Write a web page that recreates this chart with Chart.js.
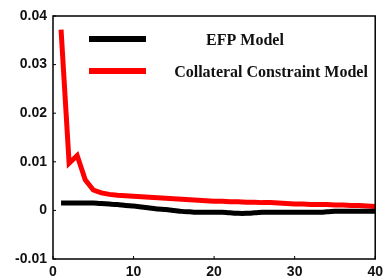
<!DOCTYPE html>
<html>
<head>
<meta charset="utf-8">
<script src="https://cdn.jsdelivr.net/npm/chart.js@4"></script>
<style>
  html, body { margin: 0; padding: 0; background: #fff; }
  #wrap { width: 388px; height: 280px; }
</style>
</head>
<body>
<div id="wrap"><canvas id="c" width="388" height="280"></canvas></div>
<script>
const periods = Array.from({ length: 40 }, (_, i) => i + 1);
const efp = [0.0015, 0.0015, 0.0015, 0.0015, 0.0015, 0.0014, 0.0013, 0.0012, 0.0010, 0.0009,
  0.0007, 0.0005, 0.0003, 0.0002, 0.0000, -0.0002, -0.0003, -0.0004, -0.0004, -0.0004,
  -0.0004, -0.0005, -0.0006, -0.0006, -0.0005, -0.0004, -0.0004, -0.0004, -0.0004, -0.0004,
  -0.0004, -0.0004, -0.0004, -0.0003, -0.0002, -0.0002, -0.0002, -0.0002, -0.0002, -0.0002];
const collateral = [0.0372, 0.0097, 0.0113, 0.0063, 0.0042, 0.0036, 0.0033, 0.0031, 0.0030, 0.0029,
  0.0028, 0.0027, 0.0026, 0.0025, 0.0024, 0.0023, 0.0022, 0.0021, 0.0020, 0.0019,
  0.0019, 0.0018, 0.0018, 0.0017, 0.0017, 0.0016, 0.0016, 0.0015, 0.0014, 0.0013,
  0.0013, 0.0012, 0.0012, 0.0012, 0.0011, 0.0011, 0.0010, 0.0010, 0.0009, 0.0008];
const seriesNames = ["EFP Model", "Collateral Constraint Model"];
const xTicks = [0, 10, 20, 30, 40];
const yTicks = [-0.01, 0, 0.01, 0.02, 0.03, 0.04];

const tickFont = { family: "Liberation Sans", size: 14, weight: "bold" };

// box around plot, inward ticks, legend
const frame = {
  id: "frame",
  afterDraw(chart) {
    const { ctx, chartArea: a, scales } = chart;
    ctx.save();
    ctx.strokeStyle = "#000";
    ctx.lineWidth = 1.5;
    ctx.strokeRect(a.left, a.top, a.right - a.left, a.bottom - a.top);
    ctx.lineWidth = 1;
    yTicks.forEach(v => {
      const y = scales.y.getPixelForValue(v);
      ctx.beginPath(); ctx.moveTo(a.left, y); ctx.lineTo(a.left + 3, y); ctx.stroke();
    });
    xTicks.forEach(v => {
      const x = scales.x.getPixelForValue(v);
      ctx.beginPath(); ctx.moveTo(x, a.bottom); ctx.lineTo(x, a.bottom - 3); ctx.stroke();
    });
    // legend
    const colors = ["#000", "#ff0000"];
    const rows = [39, 71];
    const textX = [245, 271];
    ctx.font = "bold 16px 'Liberation Serif'";
    ctx.textBaseline = "middle";
    ctx.textAlign = "center";
    seriesNames.forEach((n, i) => {
      ctx.fillStyle = colors[i];
      ctx.fillRect(89, rows[i] - 3, 57, 6);
      ctx.fillStyle = "#111";
      ctx.fillText(n, textX[i], rows[i] + 2);
    });
    ctx.restore();
  }
};

new Chart(document.getElementById("c"), {
  type: "line",
  data: {
    labels: periods,
    datasets: [
      { label: seriesNames[0], data: periods.map((p, i) => ({ x: p, y: efp[i] })),
        borderColor: "#000", borderWidth: 5, pointRadius: 0, tension: 0.2 },
      { label: seriesNames[1], data: periods.map((p, i) => ({ x: p, y: collateral[i] })),
        borderColor: "#ff0000", borderWidth: 5, pointRadius: 0, tension: 0 }
    ]
  },
  options: {
    responsive: false,
    animation: false,
    layout: { padding: { top: 16, right: 8, left: 0, bottom: 0 } },
    plugins: { legend: { display: false }, tooltip: { enabled: false } },
    scales: {
      x: {
        type: "linear", min: 0, max: 40,
        afterBuildTicks: s => { s.ticks = xTicks.map(v => ({ value: v })); },
        afterFit: s => { s.height = 21; },
        grid: { display: false, drawTicks: false },
        border: { display: false },
        ticks: { color: "#111", font: tickFont, padding: 5, maxRotation: 0 }
      },
      y: {
        min: -0.01, max: 0.04,
        afterBuildTicks: s => { s.ticks = yTicks.map(v => ({ value: v })); },
        afterFit: s => { s.width = 53; },
        grid: { display: false, drawTicks: false },
        border: { display: false },
        ticks: { color: "#111", font: tickFont, padding: 6,
          callback: v => v === 0 ? "0" : (+v.toFixed(2)).toString() }
      }
    }
  },
  plugins: [frame]
});
</script>
</body>
</html>
